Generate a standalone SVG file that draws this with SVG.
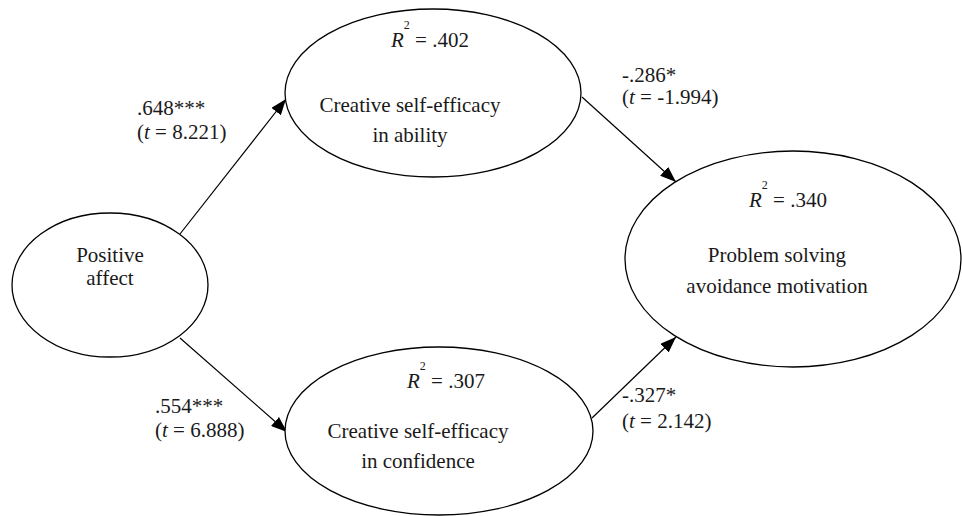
<svg xmlns="http://www.w3.org/2000/svg" width="962" height="516" viewBox="0 0 962 516">
<defs>
<marker id="arr" viewBox="0 0 16 12" refX="16" refY="6" markerWidth="16" markerHeight="12" markerUnits="userSpaceOnUse" orient="auto">
<path d="M0,0 L16,6 L0,12 Z" fill="#000"/>
</marker>
</defs>
<style>
text{font-family:"Liberation Serif","Times New Roman",serif;font-size:21px;fill:#1a1a1a}
.c{text-anchor:middle}
.node ellipse{fill:#fff;stroke:#000;stroke-width:1.3}
.edge line{stroke:#000;stroke-width:1.2;marker-end:url(#arr)}
.sup{font-size:12px}
</style>
<rect width="962" height="516" fill="#fff"/>
<g id="connectors" class="edge">
<line x1="180" y1="234" x2="286" y2="99"/>
<line x1="180" y1="338" x2="287" y2="432"/>
<line x1="582" y1="97" x2="676" y2="182"/>
<line x1="592" y1="418" x2="676" y2="337"/>
</g>
<g id="positive-affect" class="node">
<ellipse cx="110" cy="285" rx="98" ry="72"/>
<text class="c" x="110" y="262">Positive</text>
<text class="c" x="110" y="285">affect</text>
</g>
<g id="cse-ability" class="node">
<ellipse cx="433" cy="93" rx="148" ry="84"/>
<text x="391" y="47"><tspan font-style="italic">R</tspan><tspan class="sup" dy="-18">2</tspan><tspan dy="18"> = .402</tspan></text>
<text class="c" x="410" y="112">Creative self-efficacy</text>
<text class="c" x="410" y="142">in ability</text>
</g>
<g id="cse-confidence" class="node">
<ellipse cx="439" cy="431" rx="154" ry="84"/>
<text x="407" y="388"><tspan font-style="italic">R</tspan><tspan class="sup" dy="-18">2</tspan><tspan dy="18"> = .307</tspan></text>
<text class="c" x="418" y="438">Creative self-efficacy</text>
<text class="c" x="418" y="468">in confidence</text>
</g>
<g id="ps-avoidance" class="node">
<ellipse cx="793" cy="259" rx="168" ry="108"/>
<text x="749" y="207"><tspan font-style="italic">R</tspan><tspan class="sup" dy="-18">2</tspan><tspan dy="18"> = .340</tspan></text>
<text class="c" x="777" y="262">Problem solving</text>
<text class="c" x="777" y="293">avoidance motivation</text>
</g>
<g id="labels">
<text x="137" y="115">.648***</text>
<text x="137" y="139">(<tspan font-style="italic">t</tspan> = 8.221)</text>
<text x="155" y="413">.554***</text>
<text x="155" y="437">(<tspan font-style="italic">t</tspan> = 6.888)</text>
<text x="622" y="82">-.286*</text>
<text x="622" y="104">(<tspan font-style="italic">t</tspan> = -1.994)</text>
<text x="622" y="402">-.327*</text>
<text x="622" y="428">(<tspan font-style="italic">t</tspan> = 2.142)</text>
</g>
</svg>
